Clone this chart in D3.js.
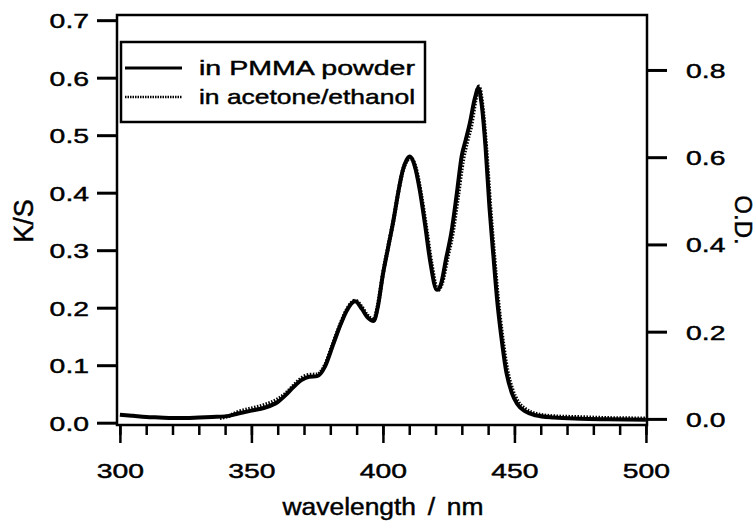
<!DOCTYPE html>
<html>
<head>
<meta charset="utf-8">
<script src="https://cdn.jsdelivr.net/npm/d3@7"></script>
<style>
  body { margin: 0; background: #fff; }
  svg { font-family: "Liberation Sans", Arial, Helvetica, sans-serif; }
  text { stroke: #000; stroke-width: 0.45px; }
</style>
</head>
<body>
<svg id="chart" width="756" height="522"></svg>
<script>
// K/S spectrum, powder (left axis)
const ksWavelength = [300, 305, 310, 315, 320, 325, 330, 335, 340, 345, 350, 355, 360, 363, 366, 369, 372, 375, 378, 381, 384, 386.5, 389.4, 392, 394, 396.5, 398, 400, 402, 404, 406, 407.5, 409, 410.3, 412, 414, 416, 418, 420.5, 422, 424, 426, 428, 430, 431.5, 433, 435, 436.3, 437.5, 439, 440.5, 442, 443.5, 445, 447, 449, 451, 454, 458, 465, 475, 485, 500];
const ksValues = [0.014, 0.012, 0.010, 0.009, 0.008, 0.008, 0.009, 0.010, 0.011, 0.016, 0.021, 0.026, 0.036, 0.048, 0.062, 0.074, 0.080, 0.081, 0.098, 0.135, 0.172, 0.197, 0.211, 0.198, 0.184, 0.177, 0.200, 0.258, 0.305, 0.352, 0.405, 0.438, 0.457, 0.463, 0.448, 0.405, 0.345, 0.280, 0.231, 0.240, 0.285, 0.330, 0.395, 0.465, 0.492, 0.520, 0.565, 0.582, 0.555, 0.480, 0.375, 0.290, 0.210, 0.150, 0.086, 0.052, 0.033, 0.020, 0.013, 0.009, 0.007, 0.006, 0.005];

// O.D. spectrum, solution (right axis)
const odWavelength = [338, 342, 345, 350, 355, 360, 363, 366, 369, 372, 375, 378, 381, 384, 386.5, 389.5, 392, 394, 396.5, 398, 400, 402, 404, 406, 408, 410.5, 412.5, 414.5, 416.5, 418.5, 420.8, 422.5, 424.5, 426.5, 428.5, 430.5, 432, 433.5, 435.2, 436.5, 437.8, 439.3, 440.8, 442.3, 443.8, 445.3, 447.3, 449.3, 451.3, 454.3, 458, 465, 475, 485, 500];
const odValues = [0.002, 0.008, 0.016, 0.024, 0.032, 0.045, 0.058, 0.076, 0.093, 0.101, 0.102, 0.124, 0.172, 0.220, 0.253, 0.271, 0.256, 0.238, 0.228, 0.258, 0.333, 0.395, 0.455, 0.525, 0.578, 0.598, 0.575, 0.515, 0.437, 0.355, 0.295, 0.312, 0.368, 0.425, 0.508, 0.594, 0.635, 0.670, 0.730, 0.762, 0.720, 0.620, 0.487, 0.375, 0.272, 0.193, 0.112, 0.066, 0.040, 0.022, 0.012, 0.006, 0.004, 0.002, 0.001];

const seriesNames = ["in PMMA powder", "in acetone/ethanol"];
const nmMajorTicks = [300, 350, 400, 450, 500];
const nmMinorTicks = d3.range(300, 501, 10);
const ksTicks = [0, 0.1, 0.2, 0.3, 0.4, 0.5, 0.6, 0.7];
const odTicks = [0, 0.2, 0.4, 0.6, 0.8];

const plotLeft = 117, plotRight = 647, plotTop = 15, plotBottom = 425;
const stretch = 1.35; // the scanned figure is wide

const svg = d3.select("#chart");

const x = d3.scaleLinear().domain([298.9, 500.4]).range([plotLeft, plotRight]);
const yKS = d3.scaleLinear().domain([-0.004, 0.709]).range([plotBottom, plotTop]);
const yOD = d3.scaleLinear().domain([-0.014, 0.926]).range([plotBottom, plotTop]);

// frame
svg.append("rect")
  .attr("x", plotLeft).attr("y", plotTop)
  .attr("width", plotRight - plotLeft).attr("height", plotBottom - plotTop)
  .attr("fill", "none").attr("stroke", "#000").attr("stroke-width", 2.5);

function styleAxis(g, sw) {
  g.select(".domain").remove();
  g.selectAll("line").attr("stroke", "#000").attr("stroke-width", sw);
  g.selectAll("text").attr("fill", "#000").style("font-size", "21px");
}

// left axis
const gL = svg.append("g").attr("transform", `translate(${plotLeft},0)`)
  .call(d3.axisLeft(yKS).tickValues(ksTicks).tickSize(20).tickFormat(d3.format(".1f")));
styleAxis(gL, 3);
gL.selectAll("text").attr("x", -28 / stretch).attr("dy", "0.35em")
  .attr("transform", `scale(${stretch},1)`);

// right axis
const gR = svg.append("g").attr("transform", `translate(${plotRight},0)`)
  .call(d3.axisRight(yOD).tickValues(odTicks).tickSize(20).tickFormat(d3.format(".1f")));
styleAxis(gR, 3);
gR.selectAll("text").attr("x", 39 / stretch).attr("dy", "0.35em")
  .attr("transform", `scale(${stretch},1)`);

// bottom axis: minor then major
const gBm = svg.append("g").attr("transform", `translate(0,${plotBottom})`)
  .call(d3.axisBottom(x).tickValues(nmMinorTicks).tickSize(10).tickFormat(""));
styleAxis(gBm, 2.5);

const gB = svg.append("g").attr("transform", `translate(0,${plotBottom})`)
  .call(d3.axisBottom(x).tickValues(nmMajorTicks).tickSize(18));
styleAxis(gB, 2.5);
gB.selectAll("text").attr("y", 53).attr("dy", 0)
  .attr("transform", `scale(${stretch},1)`);

// axis titles
svg.append("text")
  .attr("transform", `translate(383,515) scale(1.1,1)`)
  .attr("text-anchor", "middle").style("font-size", "24px")
  .style("word-spacing", "4px")
  .text("wavelength / nm");

svg.append("text")
  .attr("transform", "translate(33,221) rotate(-90)")
  .attr("text-anchor", "middle").style("font-size", "27px")
  .text("K/S");

svg.append("text")
  .attr("transform", "translate(735,220) rotate(90)")
  .attr("text-anchor", "middle").style("font-size", "24px")
  .text("O.D.");

// curves
const lineKS = d3.line().x((d, i) => x(ksWavelength[i])).y(d => yKS(d)).curve(d3.curveMonotoneX);
const lineOD = d3.line().x((d, i) => x(odWavelength[i])).y(d => yOD(d)).curve(d3.curveMonotoneX);

svg.append("path").datum(odValues)
  .attr("d", lineOD).attr("fill", "none")
  .attr("stroke", "#000").attr("stroke-width", 4)
  .attr("stroke-dasharray", "1.5,1.5");

svg.append("path").datum(ksValues)
  .attr("d", lineKS).attr("fill", "none")
  .attr("stroke", "#000").attr("stroke-width", 4)
  .attr("stroke-linejoin", "round");

// legend
const legend = svg.append("g");
legend.append("rect")
  .attr("x", 121).attr("y", 42).attr("width", 304).attr("height", 80)
  .attr("fill", "#fff").attr("stroke", "#000").attr("stroke-width", 2.5);

const rows = legend.selectAll(".row").data(seriesNames).enter()
  .append("g").classed("row", true)
  .attr("transform", (d, i) => `translate(0,${68 + i * 29})`);

rows.append("line")
  .attr("x1", 125).attr("x2", 182)
  .attr("stroke", "#000")
  .attr("stroke-width", (d, i) => (i === 0 ? 3 : 2.5))
  .attr("stroke-dasharray", (d, i) => (i === 0 ? null : "1.5,1"));

rows.append("text")
  .attr("x", 199).attr("y", 7)
  .attr("textLength", 216).attr("lengthAdjust", "spacingAndGlyphs")
  .style("font-size", "21px")
  .text((d) => d);
</script>
</body>
</html>
